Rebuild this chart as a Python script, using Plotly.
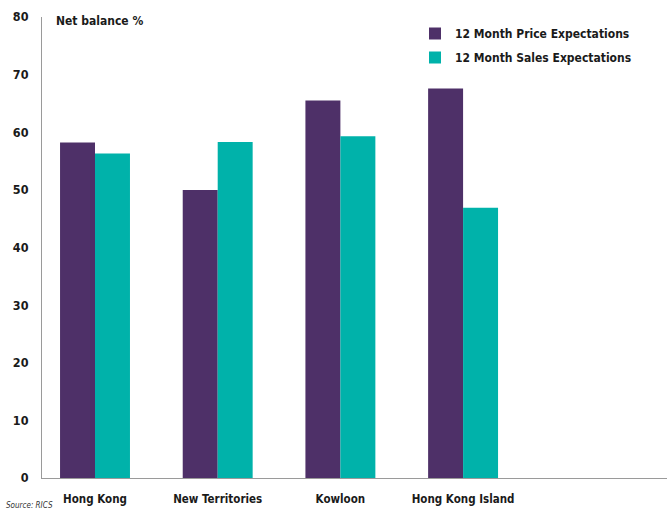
import plotly.graph_objects as go

categories = ["Hong Kong", "New Territories", "Kowloon", "Hong Kong Island"]
price_expectations = [58.2, 50.0, 65.5, 67.6]
sales_expectations = [56.3, 58.3, 59.3, 46.9]
y_ticks = [0, 10, 20, 30, 40, 50, 60, 70, 80]

FONT = "Liberation Sans Narrow, Arial Narrow, DejaVu Sans Condensed, Liberation Sans, Arial, sans-serif"
PURPLE = "#4E3068"
TEAL = "#00B2AA"
TXT = "#1a1a1a"

fig = go.Figure()
fig.add_trace(go.Bar(name="12 Month Price Expectations", x=categories, y=price_expectations,
                     legendgroup="price",
                     marker=dict(color=PURPLE, line=dict(width=0))))
fig.add_trace(go.Bar(name="12 Month Sales Expectations", x=categories, y=sales_expectations,
                     legendgroup="sales",
                     marker=dict(color=TEAL, line=dict(width=0))))

W, H = 625, 461
fig.update_layout(
    width=667, height=513,
    margin=dict(l=42, r=0, t=17, b=35, autoexpand=False),
    paper_bgcolor="white", plot_bgcolor="white",
    barmode="group", bargap=0.43, bargroupgap=0,
    font=dict(family=FONT, color=TXT, size=12),
    showlegend=True,
    legend=dict(x=(415 - 42) / W, y=1 - (19 - 17) / H, xanchor="left", yanchor="top",
                font=dict(family=FONT, size=12, weight="bold", color=TXT),
                bgcolor="rgba(0,0,0,0)", itemwidth=30, tracegroupgap=5),
    xaxis=dict(type="category", range=[-0.432, 4.662], showgrid=False,
               showline=True, linecolor="#9a9a9a", linewidth=1, ticks="",
               ticklabelstandoff=10,
               tickfont=dict(family=FONT, size=11.5, weight="bold", color=TXT)),
    yaxis=dict(range=[0, 80], tickvals=y_ticks, showgrid=False, zeroline=False,
               showline=True, linecolor="#9a9a9a", linewidth=1, ticks="",
               ticklabelstandoff=10,
               tickfont=dict(family=FONT, size=12.5, weight="bold", color=TXT)),
)
fig.add_annotation(text="<b>Net balance %</b>", x=(54 - 42) / W, y=1 - (21 - 17) / H,
                   xref="paper", yref="paper", xanchor="left", yanchor="middle",
                   showarrow=False, font=dict(family=FONT, size=12, color=TXT))
fig.add_annotation(text="<i>Source: RICS</i>", x=(4 - 42) / W, y=-(505 - 478) / H,
                   xref="paper", yref="paper", xanchor="left", yanchor="middle",
                   showarrow=False, font=dict(family=FONT, size=8, color="#333333"))

fig.write_html("out.html", config={"displayModeBar": False},
               post_script="document.body.style.margin='0px';")
